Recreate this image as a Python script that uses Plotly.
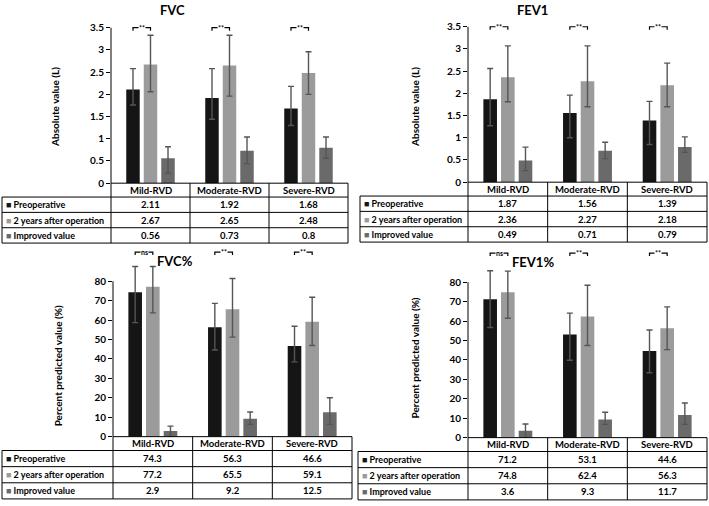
import plotly.graph_objects as go

# ---------------- data ----------------
categories = ["Mild-RVD", "Moderate-RVD", "Severe-RVD"]
series_names = ["Preoperative", "2 years after operation", "Improved value"]

fvc_pre = [2.11, 1.92, 1.68]
fvc_post = [2.67, 2.65, 2.48]
fvc_imp = [0.56, 0.73, 0.8]
fvc_pre_plus, fvc_pre_minus = [0.47, 0.66, 0.50], [0.35, 0.48, 0.38]
fvc_post_plus, fvc_post_minus = [0.66, 0.68, 0.48], [0.61, 0.69, 0.48]
fvc_imp_plus, fvc_imp_minus = [0.26, 0.31, 0.24], [0.34, 0.29, 0.24]
fvc_sig = ["**", "**", "**"]

fev1_pre = [1.87, 1.56, 1.39]
fev1_post = [2.36, 2.27, 2.18]
fev1_imp = [0.49, 0.71, 0.79]
fev1_pre_plus, fev1_pre_minus = [0.69, 0.40, 0.43], [0.60, 0.56, 0.54]
fev1_post_plus, fev1_post_minus = [0.71, 0.80, 0.50], [0.55, 0.57, 0.48]
fev1_imp_plus, fev1_imp_minus = [0.30, 0.19, 0.23], [0.23, 0.18, 0.12]
fev1_sig = ["**", "**", "**"]

fvcp_pre = [74.3, 56.3, 46.6]
fvcp_post = [77.2, 65.5, 59.1]
fvcp_imp = [2.9, 9.2, 12.5]
fvcp_pre_plus, fvcp_pre_minus = [13.3, 12.3, 10.2], [15.6, 11.7, 8.1]
fvcp_post_plus, fvcp_post_minus = [10.4, 15.9, 12.6], [13.5, 14.3, 12.2]
fvcp_imp_plus, fvcp_imp_minus = [2.5, 3.5, 7.5], [2.9, 2.9, 6.2]
fvcp_sig = ["ns", "**", "**"]

fev1p_pre = [71.2, 53.1, 44.6]
fev1p_post = [74.8, 62.4, 56.3]
fev1p_imp = [3.6, 9.3, 11.7]
fev1p_pre_plus, fev1p_pre_minus = [14.7, 11.0, 10.8], [14.5, 13.3, 11.2]
fev1p_post_plus, fev1p_post_minus = [10.9, 16.0, 11.0], [13.4, 15.0, 11.0]
fev1p_imp_plus, fev1p_imp_minus = [3.4, 3.8, 6.1], [3.6, 2.5, 4.9]
fev1p_sig = ["ns", "**", "**"]

abs_ticks = [0, 0.5, 1, 1.5, 2, 2.5, 3, 3.5]
pct_ticks = [0, 10, 20, 30, 40, 50, 60, 70, 80]

# ---------------- style / layout ----------------
W, H = 709, 506
FONT = "Lato"
colors = ["#151515", "#9b9b9b", "#6a6a6a"]
ERR = "#555555"
BARGAP, GROUPGAP = 0.335, 0.23


def px(x):
    return x / W


def py(y):
    return 1 - y / H


panels = [
    dict(title="FVC", tpos=(172, 10), ytitle="Absolute value (L)", ytpos=(55, 108),
         x0=111, x1=348, L=2, zero=185, top_tick_px=28, rng_top=3.7, ticks=abs_ticks,
         br_y=3.5, rowh=15.5,
         vals=[fvc_pre, fvc_post, fvc_imp],
         plus=[fvc_pre_plus, fvc_post_plus, fvc_imp_plus],
         minus=[fvc_pre_minus, fvc_post_minus, fvc_imp_minus], sig=fvc_sig),
    dict(title="FEV1", tpos=(532, 10), ytitle="Absolute value (L)", ytpos=(415, 108),
         x0=468, x1=707, L=360, zero=184, top_tick_px=27, rng_top=3.7, ticks=abs_ticks,
         br_y=3.5, rowh=15.5,
         vals=[fev1_pre, fev1_post, fev1_imp],
         plus=[fev1_pre_plus, fev1_post_plus, fev1_imp_plus],
         minus=[fev1_pre_minus, fev1_post_minus, fev1_imp_minus], sig=fev1_sig),
    dict(title="FVC%", tpos=(175, 264), ytitle="Percent predicted value (%)", ytpos=(58, 370),
         x0=113, x1=352, L=2, zero=441, top_tick_px=284, rng_top=97, ticks=pct_ticks,
         br_y=95, rowh=16.3,
         vals=[fvcp_pre, fvcp_post, fvcp_imp],
         plus=[fvcp_pre_plus, fvcp_post_plus, fvcp_imp_plus],
         minus=[fvcp_pre_minus, fvcp_post_minus, fvcp_imp_minus], sig=fvcp_sig),
    dict(title="FEV1%", tpos=(533, 265), ytitle="Percent predicted value (%)", ytpos=(415, 362),
         x0=468, x1=707, L=358, zero=442, top_tick_px=285, rng_top=97, ticks=pct_ticks,
         br_y=95, rowh=16.3,
         vals=[fev1p_pre, fev1p_post, fev1p_imp],
         plus=[fev1p_pre_plus, fev1p_post_plus, fev1p_imp_plus],
         minus=[fev1p_pre_minus, fev1p_post_minus, fev1p_imp_minus], sig=fev1p_sig),
]

fig = go.Figure()
shapes = []
annotations = []
layout_axes = {}
xs = list(range(len(categories)))
slot = (1 - BARGAP) / 3


def note(text, x, y, xref="paper", yref="paper", size=9.5, xanchor="center", **kw):
    d = dict(text=text, x=x, y=y, xref=xref, yref=yref, showarrow=False,
             xanchor=xanchor, yanchor="middle",
             font=dict(family=FONT, size=size, color="black"))
    d.update(kw)
    annotations.append(d)


for i, p in enumerate(panels):
    n = "" if i == 0 else str(i + 1)
    xa, ya = "x" + n, "y" + n
    top_val = p["ticks"][-1]
    ppu = (p["zero"] - p["top_tick_px"]) / top_val  # px per unit
    top_px = p["zero"] - p["rng_top"] * ppu

    for k in range(3):
        fig.add_trace(go.Bar(
            x=xs, y=p["vals"][k], xaxis=xa, yaxis=ya, name=series_names[k],
            marker=dict(color=colors[k], line=dict(width=0)), showlegend=False,
            error_y=dict(type="data", symmetric=False, array=p["plus"][k],
                         arrayminus=p["minus"][k], color=ERR, thickness=1.4, width=3),
        ))

    layout_axes["xaxis" + n] = dict(domain=[px(p["x0"]), px(p["x1"])], range=[-0.5, 2.5],
                                    visible=False, anchor=ya, fixedrange=True)
    layout_axes["yaxis" + n] = dict(domain=[py(p["zero"]), py(top_px)], range=[0, p["rng_top"]],
                                    tickvals=p["ticks"], showgrid=False, zeroline=False,
                                    showline=False, ticks="outside", ticklen=4, tickwidth=1,
                                    tickcolor="black", anchor=xa,
                                    tickfont=dict(family=FONT, size=10, color="black", weight="bold"))

    # y-axis line from 0 to top tick
    shapes.append(dict(type="line", xref="paper", yref="paper",
                       x0=px(p["x0"]), x1=px(p["x0"]), y0=py(p["zero"]), y1=py(p["top_tick_px"]),
                       line=dict(color="black", width=1)))

    note("<b>%s</b>" % p["title"], px(p["tpos"][0]), py(p["tpos"][1]), size=13)
    note("<b>%s</b>" % p["ytitle"], px(p["ytpos"][0]), py(p["ytpos"][1]), size=10, textangle=-90)

    # significance brackets
    tick = 3 / ppu
    for c, s in enumerate(p["sig"]):
        xa0, xa1 = c - slot, c
        shapes.append(dict(type="path", xref=xa, yref=ya,
                           path="M %f,%f L %f,%f L %f,%f L %f,%f" % (
                               xa0, p["br_y"] - tick, xa0, p["br_y"], xa1, p["br_y"], xa1, p["br_y"] - tick),
                           line=dict(color="black", width=1.2)))
        note("<b>%s</b>" % s, (xa0 + xa1) / 2, p["br_y"], xref=xa, yref=ya, size=7,
             bgcolor="white", borderpad=0)

    # ---------------- data table ----------------
    L, x0, x1, z, rh = p["L"], p["x0"], p["x1"], p["zero"], p["rowh"]
    hb = z + 14
    bottom = hb + 3 * rh
    colw = (x1 - x0) / 3
    line = dict(color="black", width=1)
    shapes.append(dict(type="line", xref="paper", yref="paper", x0=px(x0), x1=px(x1),
                       y0=py(z), y1=py(z), line=line))
    for r in range(4):
        yy = hb + r * rh
        shapes.append(dict(type="line", xref="paper", yref="paper", x0=px(L), x1=px(x1),
                           y0=py(yy), y1=py(yy), line=line))
    shapes.append(dict(type="line", xref="paper", yref="paper", x0=px(L), x1=px(L),
                       y0=py(hb), y1=py(bottom), line=line))
    for cidx in range(4):
        xx = x0 + cidx * colw
        shapes.append(dict(type="line", xref="paper", yref="paper", x0=px(xx), x1=px(xx),
                           y0=py(z), y1=py(bottom), line=line))
    for cidx, cat in enumerate(categories):
        note("<b>%s</b>" % cat, px(x0 + (cidx + 0.5) * colw), py(z + 7))
    for k in range(3):
        yc = hb + (k + 0.5) * rh
        note("<span style='color:%s'>■</span><b> %s</b>" % (colors[k], series_names[k]),
             px(L + 2), py(yc), xanchor="left", size=9)
        for cidx in range(3):
            note("<b>%g</b>" % p["vals"][k][cidx], px(x0 + (cidx + 0.5) * colw), py(yc))

fig.update_layout(
    width=W, height=H, margin=dict(l=0, r=0, t=0, b=0),
    paper_bgcolor="white", plot_bgcolor="white",
    barmode="group", bargap=BARGAP, bargroupgap=GROUPGAP,
    shapes=shapes, annotations=annotations, showlegend=False,
    font=dict(family=FONT, color="black"),
    **layout_axes,
)

fig.write_html("out.html", config={"displayModeBar": False})
